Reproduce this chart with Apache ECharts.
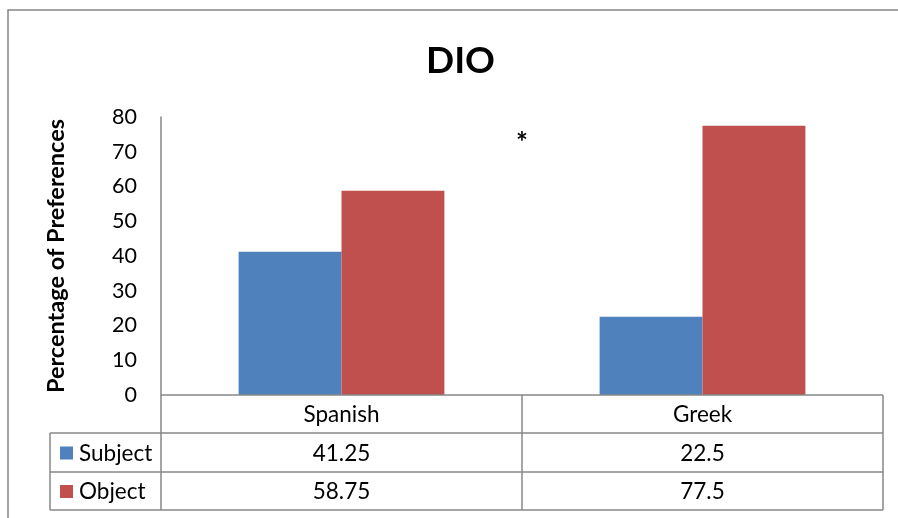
<!DOCTYPE html>
<html>
<head>
<meta charset="utf-8">
<script src="https://cdn.jsdelivr.net/npm/echarts@6/dist/echarts.min.js"></script>
<style>
  html, body { margin: 0; padding: 0; background: #fff; }
  #chart { width: 898px; height: 518px; }
</style>
</head>
<body>
<div id="chart"></div>
<script>
const categories = ['Spanish', 'Greek']
const seriesNames = ['Subject', 'Object']
const subjectValues = [41.25, 22.5]
const objectValues = [58.75, 77.5]
const tableLabels = [['41.25', '22.5'], ['58.75', '77.5']]

const COLORS = ['#4F81BD', '#C0504D']
const LINE = '#878787'
const FONT = 'Lato, "Open Sans", sans-serif'
const TXT = 22.5

// plot area edges in pixels
const G = { left: 161, right: 883, top: 117, bottom: 395 }
const ROW = [395, 433, 472, 510]
const TABLE_LEFT = 50

const chart = echarts.init(document.getElementById('chart'))

const option = {
  animation: false,
  backgroundColor: '#fff',
  title: {
    text: 'DIO',
    left: 421,
    top: 38,
    textStyle: { fontSize: 37, fontWeight: 'bold', color: '#000', fontFamily: FONT }
  },
  grid: {
    left: G.left,
    right: 898 - G.right,
    top: G.top,
    bottom: 518 - G.bottom,
    containLabel: false
  },
  xAxis: {
    type: 'category',
    data: categories,
    axisLine: { show: false },
    axisTick: { show: false },
    axisLabel: { show: false }
  },
  yAxis: {
    type: 'value',
    min: 0,
    max: 80,
    interval: 10,
    name: 'Percentage of Preferences',
    nameLocation: 'center',
    nameGap: 93,
    nameRotate: 90,
    nameTextStyle: { fontSize: 23.5, fontWeight: 'bold', color: '#000', fontFamily: FONT },
    axisLine: { show: true, lineStyle: { color: LINE, width: 1.5 } },
    axisTick: { show: false },
    splitLine: { show: false },
    axisLabel: { fontSize: 21.5, color: '#000', fontFamily: FONT, margin: 24 }
  },
  series: [
    {
      name: seriesNames[0],
      type: 'bar',
      data: subjectValues,
      itemStyle: { color: COLORS[0] },
      barGap: '0%',
      barCategoryGap: '43%'
    },
    {
      name: seriesNames[1],
      type: 'bar',
      data: objectValues,
      itemStyle: { color: COLORS[1] },
      barGap: '0%',
      barCategoryGap: '43%'
    }
  ]
}

chart.setOption(option)

// Excel-style data table under the plot
function buildTable() {
  const els = []
  const line = (x1, y1, x2, y2) => els.push({
    type: 'line',
    shape: { x1, y1, x2, y2 },
    style: { stroke: LINE, lineWidth: 1.5 },
    z: 10
  })
  const text = (t, x, y, align) => els.push({
    type: 'text',
    x, y,
    style: { text: t, fontSize: TXT, fill: '#000', fontFamily: FONT, align: align || 'center', verticalAlign: 'middle' },
    z: 10
  })

  // outer frame of the chart
  els.push({
    type: 'rect',
    shape: { x: 8, y: 10, width: 1000, height: 1000 },
    style: { fill: 'none', stroke: LINE, lineWidth: 1.5 },
    z: 0
  })

  // horizontal lines
  line(G.left, ROW[0], G.right, ROW[0])
  for (let i = 1; i < ROW.length; i++) line(TABLE_LEFT, ROW[i], G.right, ROW[i])
  // vertical lines
  line(TABLE_LEFT, ROW[1], TABLE_LEFT, ROW[3])
  line(G.left, ROW[0], G.left, ROW[3])
  const step = (G.right - G.left) / categories.length
  for (let i = 1; i <= categories.length; i++) {
    const x = G.left + step * i
    line(x, ROW[0], x, ROW[3])
  }

  // category header and values
  categories.forEach((c, i) => {
    const cx = chart.convertToPixel({ xAxisIndex: 0 }, c)
    text(c, cx, (ROW[0] + ROW[1]) / 2 + 1)
    text(tableLabels[0][i], cx, (ROW[1] + ROW[2]) / 2 + 1)
    text(tableLabels[1][i], cx, (ROW[2] + ROW[3]) / 2 + 1)
  })

  // legend keys
  seriesNames.forEach((n, i) => {
    const cy = (ROW[i + 1] + ROW[i + 2]) / 2
    els.push({
      type: 'rect',
      shape: { x: 60, y: cy - 6, width: 13, height: 13 },
      style: { fill: COLORS[i] },
      z: 10
    })
    text(n, 79, cy + 1, 'left')
  })

  // significance marker
  els.push({
    type: 'text',
    x: 522, y: 143,
    style: { text: '*', fontSize: 28, fontWeight: 'bold', fill: '#000', fontFamily: FONT, align: 'center', verticalAlign: 'middle' },
    z: 10
  })

  chart.setOption({ graphic: els })
}

buildTable()
</script>
</body>
</html>
